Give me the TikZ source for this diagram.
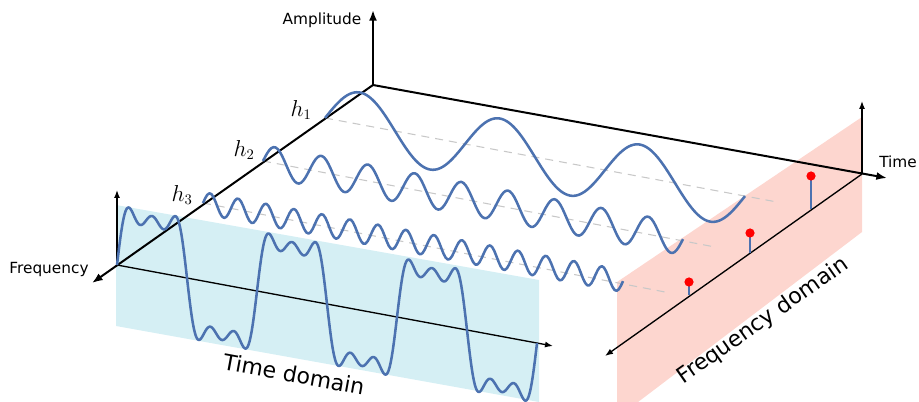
\documentclass[tikz,border=0pt]{standalone}
\usepackage{fontspec}
\setsansfont{DejaVu Sans}
\usetikzlibrary{arrows.meta}

\tikzset{
    mainAxis/.style={line width=1.5pt, -{Latex[length=8pt, width=6pt]}},
    thinAxis/.style={line width=1pt, -{Latex[length=6pt, width=4.5pt]}},
    wave/.style={line width=1.9pt, draw=waveColour},
    guide/.style={line width=0.8pt, draw=guideColour, dash pattern=on 6pt off 4.5pt},
    axisLabel/.style={font=\sffamily\fontsize{11.5}{13}\selectfont, inner sep=1pt},
    domainLabel/.style={font=\sffamily\fontsize{16.5}{19}\selectfont, inner sep=1pt},
    harmLabel/.style={font=\fontsize{16}{18}\selectfont, inner sep=1pt}
}

\begin{document}
\begin{tikzpicture}[x=0.75pt, y=-0.75pt, line join=round]
    \definecolor{waveColour}{HTML}{4C72B0}
    \definecolor{timeColour}{HTML}{D5EFF4}
    \definecolor{freqColour}{HTML}{FDD6CF}
    \definecolor{guideColour}{HTML}{C8C8C8}
    \definecolor{dotColour}{HTML}{FF0000}

    \def\slope{0.186}  % rise of the time direction, px per px
    \def\period{140}   % fundamental period along time, px
    \def\timeSpan{420} % three periods

    \useasboundingbox (0,0) rectangle (919,402);

    % Corner of the axes and the ends of the arrows
    \coordinate (O) at (373,85);
    \coordinate (ampTip) at (373,10);
    \coordinate (timeTip) at (887,178);
    \coordinate (freqTip) at (92,283);

    % Axes of the two domains
    \coordinate (TD) at (117,265);
    \coordinate (TDup) at (117,190);
    \coordinate (TDend) at (553,346);
    \coordinate (FD) at (862,174);
    \coordinate (FDup) at (862,101);
    \coordinate (FDend) at (605,356);

    % Draw the time plane and the frequency plane
    \fill[timeColour] (116,205) -- (539,280) -- (539,402) -- (116,326) -- cycle;
    \fill[freqColour] (617,282) -- (862,117) -- (862,232) -- (617,418) -- cycle;

    % Dashed guides from each harmonic towards its spike
    \coordinate (h1) at (325,118);
    \coordinate (h2) at (263,161);
    \coordinate (h3) at (203,203);
    \draw[guide] (h1) -- (777,202);
    \draw[guide] (h2) -- (715,247);
    \draw[guide] (h3) -- (665,292);

    % Draw axes
    \draw[mainAxis] (O) -- (ampTip);
    \draw[mainAxis] (O) -- (timeTip);
    \draw[mainAxis] (O) -- (freqTip);
    \draw[thinAxis] (TD) -- (TDup);
    \draw[thinAxis] (TD) -- (TDend);
    \draw[thinAxis] (FD) -- (FDup);
    \draw[thinAxis] (FD) -- (FDend);

    % Axis labels
    \node[axisLabel] (ampLabel) at (322,20) {Amplitude};
    \node[axisLabel] (timeLabel) at (898,162) {Time};
    \node[axisLabel] (freqLabel) at (49,270) {Frequency};
    \node[domainLabel, rotate=-10.5] (timeDomain) at (294,374) {Time domain};
    \node[domainLabel, rotate=35] (freqDomain) at (763,321) {Frequency domain};

    % Harmonics: start x / start y / multiple / amplitude / index
    \foreach \xs/\ys/\n/\amp/\i in {325/118/1/32/1, 263/161/3/16/2, 203/203/5/11/3}
        \draw[wave] plot[domain=0:\timeSpan, samples=200, variable=\u]
            ({\xs+\u}, {\ys+\slope*\u-\amp*sin(\n*360*(\u/\period))});

    \node[harmLabel] (h1Label) at (301,110) {$h_1$};
    \node[harmLabel] (h2Label) at (244,150) {$h_2$};
    \node[harmLabel] (h3Label) at (182,195) {$h_3$};

    % Sum of the harmonics in the time domain
    \draw[wave] plot[domain=0:\timeSpan, samples=400, variable=\u]
        ({117+\u}, {265+\slope*\u-64*(sin(360*(\u/\period))+sin(3*360*(\u/\period))/3+sin(5*360*(\u/\period))/5)});

    % Spikes in the frequency domain
    \foreach \xb/\yb/\yt/\i in {811/209/176/1, 750/253/233/2, 689/295/282/3} {
        \coordinate (s\i) at (\xb,\yb);
        \coordinate (p\i) at (\xb,\yt);
        \draw[wave, line width=1.5pt] (s\i) -- (p\i);
        \fill[dotColour] (p\i) circle (4.6);
    }

\end{tikzpicture}
\end{document}
